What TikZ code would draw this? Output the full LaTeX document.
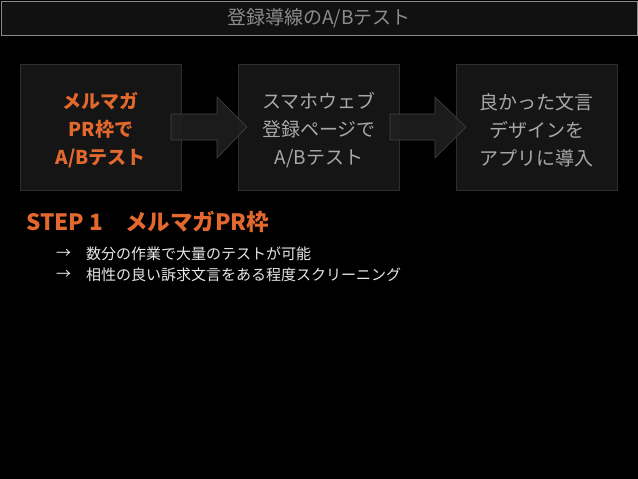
\documentclass[tikz,border=0pt]{standalone}
\usepackage{fontspec}
\setmainfont{Noto Sans CJK JP}
\definecolor{bgc}{HTML}{000000}
\definecolor{titlefill}{HTML}{111111}
\definecolor{titleline}{HTML}{8A8A8A}
\definecolor{titletext}{HTML}{8C8C8C}
\definecolor{boxfill}{HTML}{151515}
\definecolor{boxline}{HTML}{2E2E2E}
\definecolor{orangec}{HTML}{E2682E}
\definecolor{graytext}{HTML}{A8A8A8}
\definecolor{bodytext}{HTML}{E6E6E6}
\definecolor{arrowfill}{HTML}{1F1F1F}
\definecolor{arrowline}{HTML}{444444}
\begin{document}
\begin{tikzpicture}[x=1pt,y=-1pt,
  stepbox/.style={draw=boxline, fill=boxfill, line width=0.8pt, minimum width=161pt, minimum height=126pt, anchor=north west, inner sep=0pt},
  boxtext/.style={align=center, font=\fontsize{19}{28}\selectfont, text=graytext},
  flowarrow/.style={fill=arrowfill, draw=arrowline, line width=0.6pt, fill opacity=0.9},
  bullet/.style={anchor=west, text=bodytext, font=\fontsize{15}{18}\selectfont, inner sep=0pt}]
\fill[bgc] (0,0) rectangle (638,479);
\useasboundingbox (0,0) rectangle (638,479);
% title bar
\node[draw=titleline, fill=titlefill, line width=1pt, minimum width=636pt, minimum height=34pt, anchor=north west, inner sep=0pt] (titlebar) at (1,1) {};
\node[text=titletext, font=\fontsize{19}{22}\selectfont] (title) at (319,18) {登録導線のA/Bテスト};
% boxes
\node[stepbox] (b1) at (20,64) {};
\node[stepbox] (b2) at (238,64) {};
\node[stepbox] (b3) at (456,64) {};
\node[boxtext, text=orangec, font=\fontsize{19}{28}\selectfont\bfseries] (t1) at ([yshift=-3pt]b1.center) {メルマガ\\PR枠で\\A/Bテスト};
\node[boxtext] (t2) at ([yshift=-3pt]b2.center) {スマホウェブ\\登録ページで\\A/Bテスト};
\node[boxtext] (t3) at ([yshift=-3pt]b3.center) {良かった文言\\デザインを\\アプリに導入};
% arrows
\draw[flowarrow] (171,114) -- (217,114) -- (217,97) -- (247,127) -- (217,158) -- (217,140) -- (171,140) -- cycle;
\draw[flowarrow] (390,114) -- (435,114) -- (435,97) -- (466,127) -- (435,158) -- (435,140) -- (390,140) -- cycle;
% step text
\node[anchor=west, text=orangec, font=\fontsize{22.5}{26}\selectfont\bfseries, inner sep=0pt] (step) at (26,222) {STEP 1\hspace{1em}メルマガPR枠};
\node[bullet] (a1) at (56,254) {→};
\node[bullet] (l1) at (86,254) {数分の作業で大量のテストが可能};
\node[bullet] (a2) at (56,275) {→};
\node[bullet] (l2) at (86,275) {相性の良い訴求文言をある程度スクリーニング};
\end{tikzpicture}
\end{document}
